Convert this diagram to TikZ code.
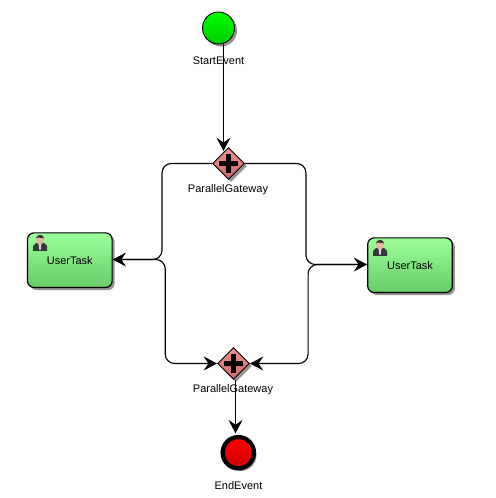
\documentclass[tikz,border=0pt]{standalone}
\usepackage{xcolor}
\usepackage{fontspec}
\setmainfont{Liberation Sans}
\usetikzlibrary{arrows.meta,shapes.geometric,shadows}
\definecolor{TaskTop}{HTML}{9CFF9A}
\definecolor{TaskBottom}{HTML}{66CC66}
\definecolor{GateTop}{HTML}{F09494}
\definecolor{GateBottom}{HTML}{CC6666}
\definecolor{SkinTone}{HTML}{E2B99C}
\definecolor{SuitGrey}{HTML}{33383A}
\tikzset{
  softshadow/.style={drop shadow={shadow xshift=1.9pt, shadow yshift=-1.9pt, fill=black!60, opacity=.7}},
  flow/.style={draw=black, line width=0.85pt, rounded corners=7pt,
    -{Stealth[length=10pt,width=10.5pt,inset=3.6pt]}},
  tasknode/.style={draw=black, line width=0.9pt, rounded corners=5pt, softshadow,
    top color=TaskTop, bottom color=TaskBottom,
    minimum width=63.5pt, minimum height=41pt, inner sep=0pt, font=\fontsize{8.25}{10}\selectfont},
  gatenode/.style={diamond, draw=black, line width=0.7pt, softshadow,
    top color=GateTop, bottom color=GateBottom,
    minimum width=24pt, minimum height=24pt, inner sep=0pt,
    path picture={
      \draw[line width=3.2pt] ([xshift=-7pt]path picture bounding box.center) -- ([xshift=7pt]path picture bounding box.center);
      \draw[line width=3.2pt] ([yshift=-7pt]path picture bounding box.center) -- ([yshift=7pt]path picture bounding box.center);
    }},
  startnode/.style={circle, draw=black, line width=0.7pt, softshadow,
    top color=green, bottom color=green!80!black, minimum size=24pt, inner sep=0pt},
  endnode/.style={circle, draw=black, line width=3.2pt, softshadow,
    top color=red, bottom color=red!80!black, minimum size=23.5pt, inner sep=0pt},
  caption/.style={inner sep=0pt, font=\fontsize{8.25}{10}\selectfont},
  usericon/.pic={
    \fill[SuitGrey] (-7,8) -- (-7,3) .. controls (-6,0) and (-3,0) .. (0,-1) .. controls (3,0) and (6,0) .. (7,3) -- (7,8) -- cycle;
    \fill[black!15] (-1.5,0) -- (1.5,0) -- (0.6,7) -- (-0.6,7) -- cycle;
    \fill[SkinTone] (0,-3) ellipse (4 and 4.5);
    \fill[black!80] (-4.2,-4) .. controls (-4.2,-9.5) and (4.2,-9.5) .. (4.2,-4) -- (3,-5) -- (-3,-5.5) -- cycle;
  }
}
\begin{document}
\begin{tikzpicture}[x=0.75pt,y=-0.75pt]
  \useasboundingbox (0,0) rectangle (495,498);

  \node[startnode] (start) at (218.5,28) {};
  \node[gatenode] (gwsplit) at (228.5,163.5) {};
  \node[gatenode] (gwjoin) at (233.5,363.5) {};
  \node[endnode] (finish) at (238.3,452.7) {};
  \node[tasknode] (taskleft) at (69.8,260.2) {UserTask};
  \node[tasknode] (taskright) at (410,265.2) {UserTask};

  \pic at (40,243) {usericon};
  \pic at (380,248) {usericon};

  \coordinate (startout) at ([xshift=3.75pt]start.south);
  \coordinate (gwsplitin) at ([xshift=-4pt,yshift=-3pt]gwsplit.north);
  \coordinate (gwjoinout) at ([xshift=1.5pt]gwjoin.south);
  \coordinate (finishin) at ([xshift=-1.6pt,yshift=1.2pt]finish.north);
  \coordinate (taskleftport) at ([yshift=.5pt]taskleft.east);
  \coordinate (taskrightport) at ([yshift=.5pt]taskright.east -| taskright.west);

  \draw[flow] (startout) -- (startout |- gwsplitin);
  \draw[flow] (gwsplit.west) -- ++(-50,0) |- (taskleftport);
  \draw[flow] (taskleftport) -- ++(52.5,0) |- (gwjoin.west);
  \draw[flow] (gwsplit.east) -- ++(61,0) |- (taskrightport);
  \draw[flow] (taskrightport) -- ++(-59,0) |- (gwjoin.east);
  \draw[flow] (gwjoinout) -- (gwjoinout |- finishin);

  \node[caption] (startlabel) at (218.5,60.5) {StartEvent};
  \node[caption] (splitlabel) at (228,190) {ParallelGateway};
  \node[caption] (joinlabel) at (233,390) {ParallelGateway};
  \node[caption] (finishlabel) at (238.5,486) {EndEvent};
\end{tikzpicture}
\end{document}
